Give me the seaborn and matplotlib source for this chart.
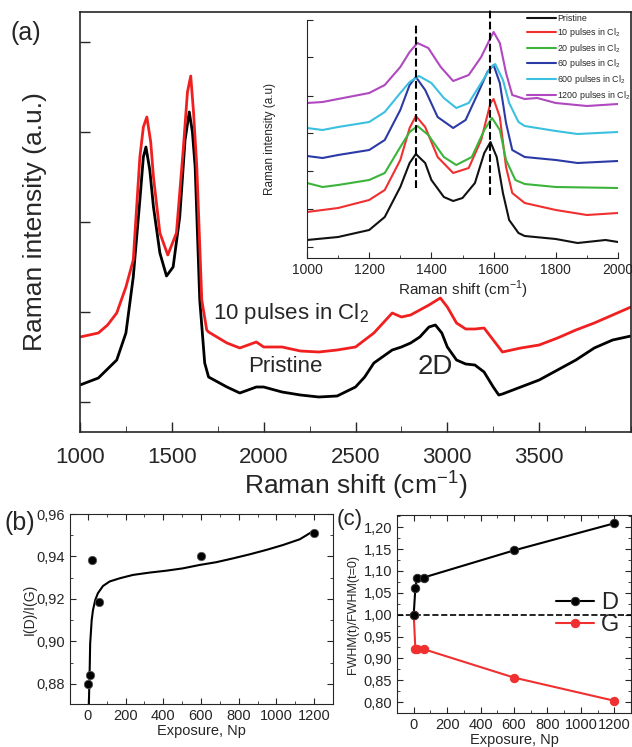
import numpy as np
import pandas as pd
import matplotlib
matplotlib.use('Agg')
import matplotlib.pyplot as plt
import seaborn as sns
from matplotlib.ticker import AutoMinorLocator, FuncFormatter

sns.set_style('ticks')
plt.rcParams['font.family'] = ['Liberation Sans', 'DejaVu Sans']
plt.rcParams['mathtext.fontset'] = 'custom'
plt.rcParams['mathtext.rm'] = 'Liberation Sans'

# ---- (a) main spectra ----
main_x_pristine = [1000, 1100, 1200, 1250, 1290, 1326, 1345, 1359, 1380, 1400, 1435, 1471, 1507,
                   1543, 1572, 1595, 1612, 1627, 1652, 1679, 1700, 1800, 1870, 1960, 2000, 2100,
                   2200, 2300, 2400, 2500, 2550, 2600, 2700, 2750, 2800, 2850, 2900, 2935, 2970,
                   3000, 3050, 3100, 3150, 3200, 3250, 3280, 3300, 3400, 3500, 3600, 3700, 3800,
                   3900, 4000]
main_y_pristine = [47, 54, 72, 99, 155, 232, 275, 285, 262, 225, 179, 156, 165,
                   215, 292, 320, 300, 265, 132, 69, 55, 45, 39, 45, 45, 40,
                   37, 35, 36, 45, 55, 69, 82, 85, 89, 95, 105, 107, 99,
                   85, 72, 68, 67, 60, 45, 37, 38, 45, 52, 62, 72, 84,
                   92, 96]
main_x_10 = [1000, 1100, 1150, 1200, 1250, 1290, 1326, 1345, 1364, 1385, 1400, 1435, 1478, 1525,
             1562, 1585, 1603, 1618, 1636, 1663, 1690, 1700, 1800, 1870, 1960, 2000, 2100, 2200,
             2300, 2400, 2500, 2600, 2650, 2700, 2750, 2800, 2850, 2900, 2962, 3000, 3050, 3100,
             3150, 3200, 3250, 3300, 3400, 3500, 3600, 3700, 3800, 3900, 4000]
main_y_10 = [95, 99, 107, 119, 145, 172, 275, 305, 315, 290, 255, 199, 177, 199,
             282, 340, 356, 320, 265, 132, 102, 100, 89, 84, 90, 85, 85, 81,
             80, 82, 85, 99, 109, 119, 115, 117, 122, 127, 134, 125, 109, 103,
             103, 104, 92, 80, 84, 87, 94, 102, 109, 117, 125]

# ---- (a) inset spectra ----
ins_series = ['Pristine', '10 pulses in Cl$_2$', '20 pulses in Cl$_2$',
              '60 pulses in Cl$_2$', '600 pulses in Cl$_2$', '1200 pulses in Cl$_2$']
ins_colors = ['#111111', '#f03030', '#3cb43c', '#2c3aa6', '#3cc0e0', '#b048c0']
ins_x = {
    'Pristine': [1000, 1100, 1200, 1250, 1300, 1330, 1350, 1380, 1400, 1440, 1470, 1500, 1540,
                 1570, 1590, 1610, 1630, 1650, 1680, 1700, 1800, 1870, 1960, 2000],
    '10 pulses in Cl$_2$': [1000, 1100, 1200, 1250, 1300, 1330, 1350, 1380, 1420, 1470, 1520,
                            1560, 1590, 1600, 1620, 1640, 1660, 1700, 1800, 1900, 2000],
    '20 pulses in Cl$_2$': [1000, 1050, 1100, 1200, 1250, 1300, 1330, 1355, 1390, 1440, 1480,
                            1530, 1570, 1595, 1620, 1640, 1670, 1700, 1800, 2000],
    '60 pulses in Cl$_2$': [1000, 1050, 1100, 1200, 1250, 1300, 1330, 1350, 1380, 1420, 1470,
                            1510, 1550, 1580, 1600, 1620, 1640, 1660, 1700, 1800, 1870, 2000],
    '600 pulses in Cl$_2$': [1000, 1050, 1100, 1200, 1250, 1300, 1330, 1360, 1400, 1440, 1480,
                             1520, 1560, 1590, 1605, 1630, 1650, 1680, 1700, 1800, 1870, 2000],
    '1200 pulses in Cl$_2$': [1000, 1050, 1100, 1200, 1250, 1300, 1330, 1355, 1390, 1430, 1470,
                              1520, 1560, 1590, 1600, 1620, 1640, 1660, 1700, 1740, 1800, 1900, 2000],
}
ins_y = {
    'Pristine': [18, 21, 28, 41, 71, 95, 104, 95, 78, 61, 57, 60, 75,
                 105, 116, 101, 65, 38, 25, 22, 19, 15, 18, 16],
    '10 pulses in Cl$_2$': [46, 50, 58, 68, 98, 130, 142, 131, 101, 85, 90,
                            118, 155, 159, 141, 91, 65, 55, 48, 43, 45],
    '20 pulses in Cl$_2$': [75, 71, 73, 78, 85, 111, 126, 132, 123, 101, 93,
                            101, 128, 140, 128, 98, 78, 74, 71, 70],
    '60 pulses in Cl$_2$': [102, 100, 103, 108, 118, 148, 173, 181, 168, 141, 130,
                            138, 165, 186, 193, 175, 135, 108, 101, 98, 95, 97],
    '600 pulses in Cl$_2$': [130, 128, 131, 136, 146, 165, 176, 182, 175, 160, 150,
                             155, 175, 190, 194, 178, 155, 136, 132, 127, 124, 126],
    '1200 pulses in Cl$_2$': [155, 156, 159, 165, 173, 191, 206, 215, 210, 191, 177,
                              183, 201, 220, 226, 215, 185, 163, 159, 160, 155, 152, 154],
}

# ---- (b) I(D)/I(G) ----
b_exposure = [0, 10, 20, 60, 600, 1200]
b_ratio = [0.880, 0.884, 0.9385, 0.9185, 0.940, 0.951]
b_fit_x = [5, 9, 12, 20, 27, 39, 53, 80, 115, 168, 239, 327, 416, 504, 593, 681, 770,
           858, 947, 1035, 1124, 1200]
b_fit_y = [0.8706, 0.885, 0.899, 0.910, 0.9148, 0.9195, 0.9227, 0.9261, 0.9282, 0.9297,
           0.9313, 0.9324, 0.9333, 0.9344, 0.9360, 0.9373, 0.9391, 0.9410, 0.9431, 0.9454,
           0.9481, 0.9522]

# ---- (c) FWHM ratio ----
c_exposure = [0, 10, 20, 60, 600, 1200]
c_D = [1.000, 1.062, 1.085, 1.085, 1.147, 1.209]
c_G = [1.000, 0.921, 0.921, 0.921, 0.856, 0.803]

W, H = 632, 747
fig = plt.figure(figsize=(W / 100, H / 100), dpi=100)


def box(l, t, r, b):
    return [l / W, (H - b) / H, (r - l) / W, (b - t) / H]


comma = FuncFormatter(lambda v, _: f"{v:.2f}".replace('.', ','))

# main panel
ax = fig.add_axes(box(80, 12, 631, 432))
df_main = pd.concat([
    pd.DataFrame({'x': main_x_pristine, 'y': main_y_pristine, 's': 'Pristine'}),
    pd.DataFrame({'x': main_x_10, 'y': main_y_10, 's': '10'}),
])
sns.lineplot(data=df_main, x='x', y='y', hue='s', palette={'Pristine': '#000000', '10': '#f02020'},
             estimator=None, sort=False, lw=2, ax=ax, legend=False)
ax.set_xlim(1000, 4000)
ax.set_ylim(0, 420)
ax.set_xticks([1000, 1500, 2000, 2500, 3000, 3500])
ax.xaxis.set_minor_locator(AutoMinorLocator(2))
ax.set_yticks([30, 120, 210, 300, 390])
ax.set_yticklabels([])
ax.tick_params(direction='in', labelsize=16, length=7, width=1)
ax.tick_params(axis='x', pad=11)
ax.tick_params(which='minor', direction='in', length=4)
ax.set_xlabel('Raman shift (cm$^{-1}$)', fontsize=19, labelpad=0)
ax.set_ylabel('Raman intensity (a.u.)', fontsize=19, labelpad=20)
for s in ax.spines.values():
    s.set_linewidth(1.2)
ax.text(1723, 119, '10 pulses in Cl$_2$', fontsize=16, va='center')
ax.text(1918, 65, 'Pristine', fontsize=16, va='center')
ax.text(2935, 65, '2D', fontsize=20, va='center', ha='center')
fig.text(11 / W, 1 - 33 / H, '(a)', fontsize=18, va='center')

# inset
axi = fig.add_axes(box(307, 20, 618, 258))
df_ins = pd.concat([pd.DataFrame({'x': ins_x[k], 'y': ins_y[k], 's': k}) for k in ins_series])
sns.lineplot(data=df_ins, x='x', y='y', hue='s', hue_order=ins_series,
             palette=dict(zip(ins_series, ins_colors)), estimator=None, sort=False,
             lw=1.5, ax=axi)
axi.vlines([1350], 70, 233, colors='k', linestyles='--', lw=1.5)
axi.vlines([1590], 63, 249, colors='k', linestyles='--', lw=1.5, clip_on=False)
axi.set_xlim(1000, 2000)
axi.set_ylim(0, 238)
axi.set_xticks([1000, 1200, 1400, 1600, 1800, 2000])
axi.xaxis.set_minor_locator(AutoMinorLocator(2))
axi.set_yticks([11, 49, 87, 125, 162, 201, 238])
axi.set_yticklabels([])
axi.patch.set_alpha(0)
axi.spines['top'].set_visible(False)
axi.spines['right'].set_visible(False)
axi.tick_params(direction='in', labelsize=10, length=4)
axi.tick_params(which='minor', direction='in', length=2.5)
axi.set_xlabel('Raman shift (cm$^{-1}$)', fontsize=11, labelpad=1)
axi.set_ylabel('Raman intensity (a.u)', fontsize=8.5, labelpad=19)
h, l = axi.get_legend_handles_labels()
axi.legend(h, l, loc='upper right', bbox_to_anchor=(1.06, 1.05), frameon=False,
           fontsize=6.4, handlelength=3.2, labelspacing=0.3, handletextpad=0.15, borderpad=0.2)

# panel b
axb = fig.add_axes(box(70, 514, 333, 704))
sns.lineplot(x=b_fit_x, y=b_fit_y, color='black', lw=1.5, sort=False, estimator=None, ax=axb)
sns.scatterplot(x=b_exposure, y=b_ratio, color='black', s=36, edgecolor='#555555',
                linewidth=0.6, ax=axb, zorder=3)
axb.set_xlim(-95, 1300)
axb.set_ylim(0.8705, 0.96)
axb.set_xticks(range(0, 1201, 200))
axb.set_yticks([0.88, 0.90, 0.92, 0.94, 0.96])
axb.yaxis.set_major_formatter(comma)
axb.xaxis.set_minor_locator(AutoMinorLocator(2))
axb.yaxis.set_minor_locator(AutoMinorLocator(2))
axb.tick_params(which='both', direction='in', top=True, right=True, labelsize=10.5)
axb.tick_params(length=4)
axb.tick_params(which='minor', length=2.5)
axb.set_xlabel('Exposure, Np', fontsize=10.5, labelpad=1)
axb.set_ylabel('I(D)/I(G)', fontsize=10, labelpad=0)
fig.text(4 / W, 1 - 523 / H, '(b)', fontsize=18, va='center')

# panel c
axc = fig.add_axes(box(397, 515, 631, 713))
axc.axhline(1.0, color='black', ls='--', lw=1.2)
sns.lineplot(x=c_exposure, y=c_G, color='#f03030', marker='o', markersize=6,
             markeredgecolor='#f03030', lw=1.5, label='G', ax=axc)
sns.lineplot(x=c_exposure, y=c_D, color='black', marker='o', markersize=6,
             markeredgecolor='#333333', lw=1.5, label='D', ax=axc)
axc.set_xlim(-100, 1300)
axc.set_ylim(0.775, 1.228)
axc.set_xticks(range(0, 1201, 200))
axc.set_yticks(np.arange(0.80, 1.201, 0.05))
axc.yaxis.set_major_formatter(comma)
axc.xaxis.set_minor_locator(AutoMinorLocator(2))
axc.yaxis.set_minor_locator(AutoMinorLocator(2))
axc.tick_params(which='both', direction='in', top=True, right=True, labelsize=10.5)
axc.tick_params(length=4)
axc.tick_params(which='minor', length=2.5)
axc.set_xlabel('Exposure, Np', fontsize=10.5, labelpad=1)
axc.set_ylabel('FWHM(t)/FWHM(t=0)', fontsize=9, labelpad=3)
h, l = axc.get_legend_handles_labels()
axc.legend(h[::-1], l[::-1], loc='center right', bbox_to_anchor=(1.0, 0.5), frameon=False,
           fontsize=17, handlelength=1.6, handletextpad=0.3, labelspacing=0.0, borderpad=0)
fig.text(337 / W, 1 - 519 / H, '(c)', fontsize=16, va='center')

fig.savefig('out.png', dpi=100)
